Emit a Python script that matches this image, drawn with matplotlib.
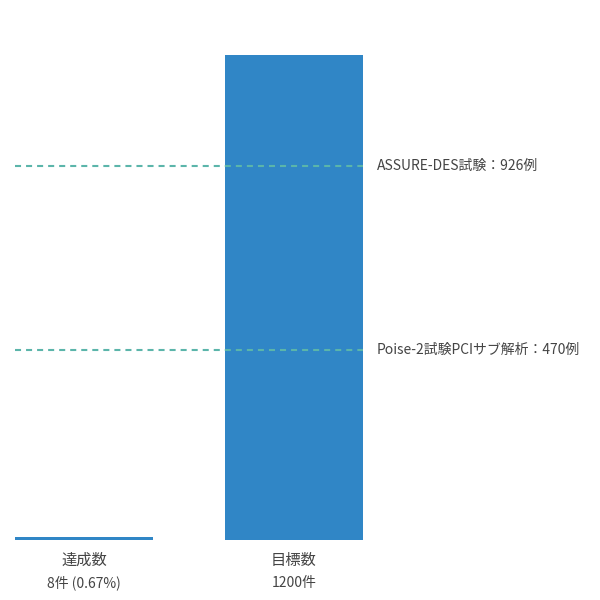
import matplotlib
matplotlib.use("Agg")
import matplotlib.pyplot as plt

categories = ["達成数", "目標数"]
values = [8, 1200]
sublabels = ["8件 (0.67%)", "1200件"]
ref_values = [926, 470]
ref_labels = ["ASSURE-DES試験：926例", "Poise-2試験PCIサブ解析：470例"]

plt.rcParams['font.family'] = ['Noto Sans CJK JP', 'DejaVu Sans']

fig = plt.figure(figsize=(6, 6), dpi=100)
ax = fig.add_axes([15/600, 60/600, 348/600, 485/600])
bar_w = 0.66
x = list(range(len(categories)))
ax.bar(x, values, width=bar_w, color="#3086c6")
ax.set_xlim(-bar_w/2, 1 + bar_w/2)
ax.set_ylim(0, 1200)
for s in ax.spines.values():
    s.set_visible(False)
ax.set_xticks([])
ax.set_yticks([])

for v, lab in zip(ref_values, ref_labels):
    ax.axhline(v, color="#5bb5aa", lw=1.5, dashes=(2.9, 2.4), zorder=3)
    ax.annotate(lab, xy=(1, v), xycoords=('axes fraction', 'data'),
                xytext=(14, 0), textcoords='offset pixels',
                ha='left', va='center', fontsize=10, color="#444444",
                annotation_clip=False)

for xi, c, s in zip(x, categories, sublabels):
    ax.annotate(c, xy=(xi, 0), xycoords='data', xytext=(0, -20),
                textcoords='offset pixels', ha='center', va='center',
                fontsize=11, color="#444444", annotation_clip=False)
    ax.annotate(s, xy=(xi, 0), xycoords='data', xytext=(0, -43),
                textcoords='offset pixels', ha='center', va='center',
                fontsize=10, color="#444444", annotation_clip=False)

fig.savefig("out.png", dpi=100)
